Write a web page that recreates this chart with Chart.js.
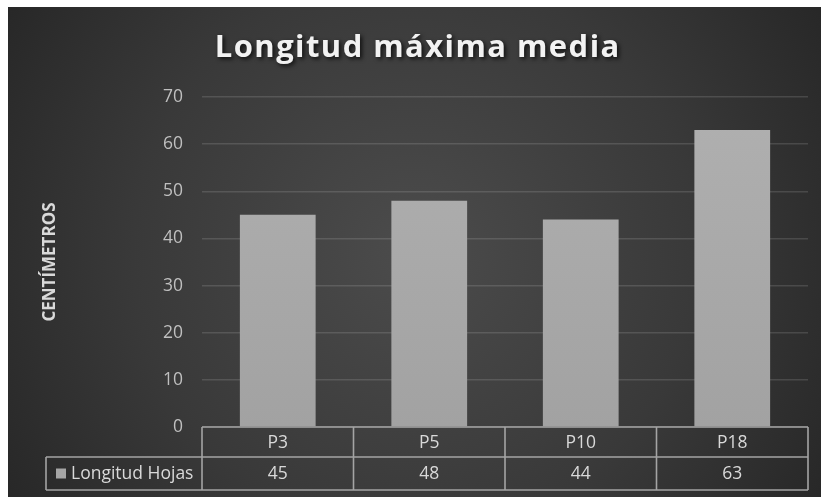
<!DOCTYPE html>
<html>
<head>
<meta charset="utf-8">
<script src="https://cdn.jsdelivr.net/npm/chart.js@4"></script>
<style>
  html, body { margin: 0; padding: 0; background: #ffffff; width: 821px; height: 497px; overflow: hidden; }
  #wrap { position: absolute; left: 8px; top: 7px; width: 813px; height: 490px; }
</style>
</head>
<body>
<div id="wrap"><canvas id="c" width="813" height="490"></canvas></div>
<script>
const chartTitle = 'Longitud máxima media';
const yAxisTitle = 'CENTÍMETROS';
const categories = ['P3', 'P5', 'P10', 'P18'];
const seriesName = 'Longitud Hojas';
const seriesValues = [45, 48, 44, 63];
const yMin = 0, yMax = 70, yStep = 10;

const FONT = '"Open Sans", "DejaVu Sans", sans-serif';

const bgPlugin = {
  id: 'bg',
  beforeDraw(chart) {
    const { ctx, width, height } = chart;
    ctx.save();
    const g = ctx.createRadialGradient(width / 2, height / 2, 10, width / 2, height / 2, Math.max(width, height) * 0.62);
    g.addColorStop(0, '#4b4b4b');
    g.addColorStop(0.55, '#393939');
    g.addColorStop(1, '#252525');
    ctx.fillStyle = g;
    ctx.fillRect(0, 0, width, height);
    ctx.restore();
  }
};

const titlePlugin = {
  id: 'customTitle',
  afterDraw(chart) {
    const { ctx } = chart;
    ctx.save();
    ctx.font = 'bold 31px ' + FONT;
    const targetW = 406;
    const baseW = ctx.measureText(chartTitle).width;
    const n = chartTitle.length;
    const sp = Math.max(0, (targetW - baseW) / n);
    ctx.letterSpacing = sp.toFixed(2) + 'px';
    const w = ctx.measureText(chartTitle).width;
    ctx.textAlign = 'left';
    ctx.textBaseline = 'alphabetic';
    ctx.shadowColor = 'rgba(0,0,0,0.75)';
    ctx.shadowBlur = 4;
    ctx.shadowOffsetX = 2;
    ctx.shadowOffsetY = 2;
    ctx.fillStyle = '#f2f2f2';
    ctx.fillText(chartTitle, 409 - w / 2 + sp / 2, 50);
    ctx.restore();
  }
};

const tablePlugin = {
  id: 'dataTable',
  afterDraw(chart) {
    const { ctx, chartArea } = chart;
    const xs = chart.scales.x;
    const n = categories.length;
    const cw = (chartArea.right - chartArea.left) / n;
    const top = chartArea.bottom;
    const mid = top + 30;
    const bot = top + 63;
    const labelLeft = 38;
    ctx.save();
    ctx.strokeStyle = '#a4a4a4';
    ctx.lineWidth = 1.6;
    ctx.beginPath();
    ctx.moveTo(chartArea.left, top); ctx.lineTo(chartArea.right, top);
    ctx.moveTo(labelLeft, mid); ctx.lineTo(chartArea.right, mid);
    ctx.moveTo(labelLeft, bot); ctx.lineTo(chartArea.right, bot);
    ctx.moveTo(labelLeft, mid); ctx.lineTo(labelLeft, bot);
    for (let i = 0; i <= n; i++) {
      const x = i < n ? xs.getPixelForValue(i) - cw / 2 : xs.getPixelForValue(n - 1) + cw / 2;
      ctx.moveTo(x, top); ctx.lineTo(x, bot);
    }
    ctx.stroke();

    ctx.fillStyle = '#d9d9d9';
    ctx.font = '17.5px ' + FONT;
    ctx.textAlign = 'center';
    ctx.textBaseline = 'middle';
    categories.forEach((c, i) => {
      const x = xs.getPixelForValue(i);
      ctx.fillText(c, x, (top + mid) / 2 + 1);
      ctx.fillText(String(seriesValues[i]), x, (mid + bot) / 2 + 1);
    });
    ctx.fillStyle = '#a6a6a6';
    ctx.fillRect(48, (mid + bot) / 2 - 5, 10, 10);
    ctx.fillStyle = '#d9d9d9';
    ctx.textAlign = 'left';
    ctx.fillText(seriesName, 63, (mid + bot) / 2 + 1);
    ctx.restore();
  }
};

const ctx = document.getElementById('c').getContext('2d');
const barGrad = (context) => {
  const chart = context.chart;
  const { ctx, chartArea } = chart;
  if (!chartArea) return '#a6a6a6';
  const g = ctx.createLinearGradient(0, chartArea.top, 0, chartArea.bottom);
  g.addColorStop(0, '#b0b0b0');
  g.addColorStop(1, '#a2a2a2');
  return g;
};

new Chart(ctx, {
  type: 'bar',
  data: {
    labels: categories,
    datasets: [{
      label: seriesName,
      data: seriesValues,
      backgroundColor: barGrad,
      borderWidth: 0,
      barPercentage: 1.0,
      categoryPercentage: 0.5
    }]
  },
  options: {
    responsive: false,
    animation: false,
    events: [],
    layout: { padding: { top: 90, right: 13, bottom: 70, left: 0 } },
    plugins: {
      legend: { display: false },
      title: { display: false },
      tooltip: { enabled: false }
    },
    scales: {
      x: {
        display: false,
        offset: true
      },
      y: {
        min: yMin,
        max: yMax,
        afterFit(scale) { scale.width = 194; },
        ticks: {
          stepSize: yStep,
          color: '#bfbfbf',
          font: { family: FONT, size: 17.5 },
          padding: 19
        },
        grid: {
          color: 'rgba(255,255,255,0.13)',
          lineWidth: 1.5,
          drawTicks: false
        },
        border: { display: false },
        title: {
          display: true,
          text: yAxisTitle,
          color: '#d9d9d9',
          font: { family: FONT, size: 17, weight: 'bold' },
          padding: { top: 32, bottom: 0 }
        }
      }
    }
  },
  plugins: [bgPlugin, titlePlugin, tablePlugin]
});
</script>
</body>
</html>
